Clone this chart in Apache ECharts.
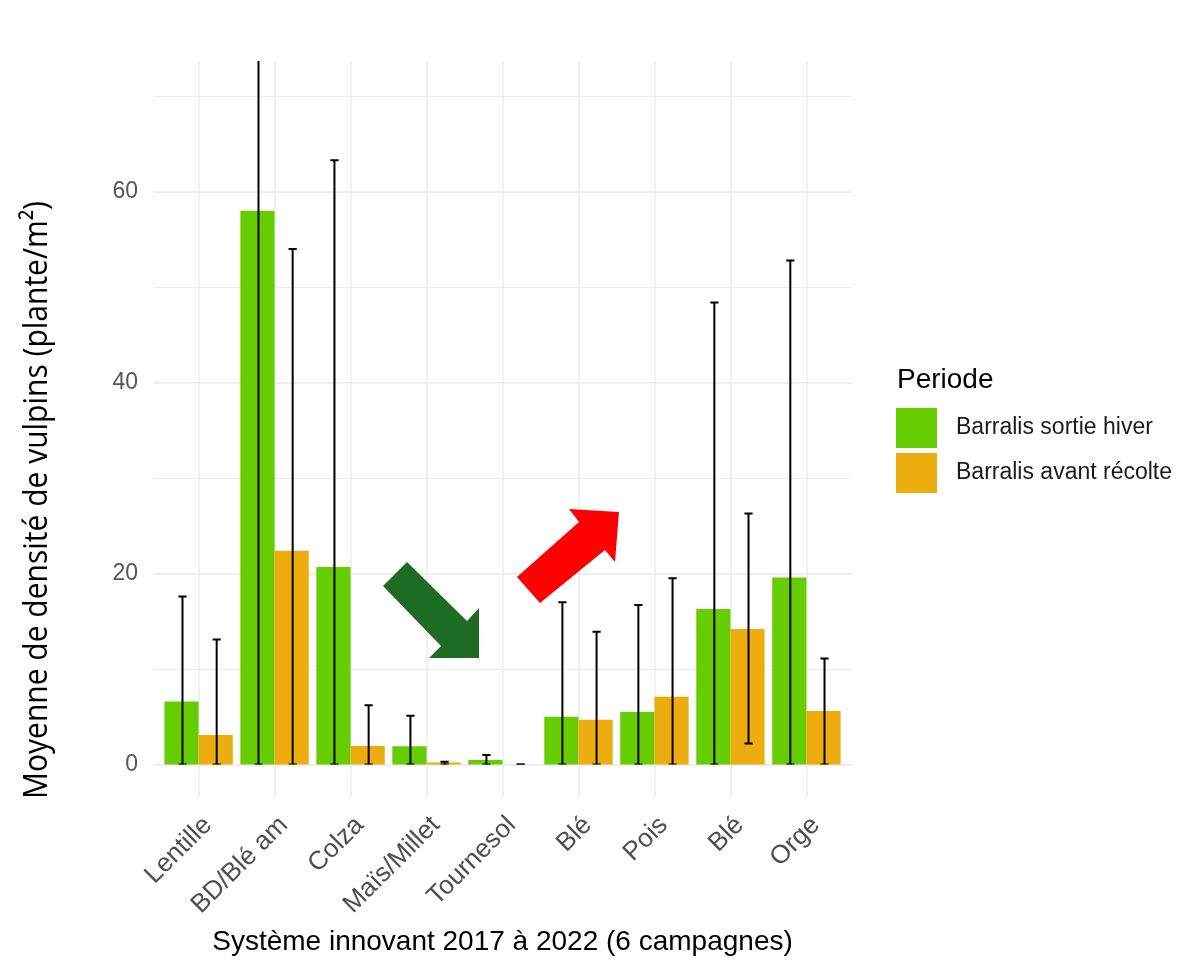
<!DOCTYPE html>
<html><head><meta charset="utf-8">
<script src="https://cdn.jsdelivr.net/npm/echarts@6/dist/echarts.min.js"></script>
<style>html,body{margin:0;padding:0;background:#fff}#c{width:1200px;height:969px}</style>
</head><body><div id="c"></div>
<script>
const categories = ['Lentille', 'BD/Blé am', 'Colza', 'Maïs/Millet', 'Tournesol', 'Blé', 'Pois', 'Blé', 'Orge'];
const seriesNames = ['Barralis sortie hiver', 'Barralis avant récolte'];
const hiver = [6.6, 58.0, 20.7, 1.9, 0.47, 5.0, 5.5, 16.3, 19.6];
const hiverErrLow = [0, 0, 0, 0, 0, 0, 0, 0, 0];
const hiverErrHigh = [17.6, 80, 63.3, 5.1, 1.0, 17.0, 16.7, 48.4, 52.8];
const recolte = [3.1, 22.4, 1.95, 0.2, 0, 4.7, 7.1, 14.2, 5.6];
const recolteErrLow = [0, 0, 0, 0, 0, 0, 0, 2.2, 0];
const recolteErrHigh = [13.1, 54.0, 6.2, 0.3, 0, 13.9, 19.5, 26.3, 11.1];
const yTicks = [0, 20, 40, 60];
const yMax = 73.7;

// fine positional axis: 5 slots per category, 3-slot padding at both ends (ggplot 0.6 expansion)
const STEP = 5, PAD = 3;
const nPos = PAD * 2 + STEP * (categories.length - 1) + 1;
const posOf = k => PAD + STEP * k;
const axisLabels = Array(nPos).fill('');
categories.forEach((c, k) => { axisLabels[posOf(k)] = c; });
function spread(vals) { const a = Array(nPos).fill(null); vals.forEach((v, k) => { a[posOf(k)] = v; }); return a; }
const errData = [];
categories.forEach((c, k) => {
  errData.push([posOf(k), hiverErrLow[k], hiverErrHigh[k], -1]);
  errData.push([posOf(k), recolteErrLow[k], recolteErrHigh[k], 1]);
});

const GREEN = '#66CD00', ORANGE = '#EEAD0E', GRID = '#EBEBEB';
const catSplit = { show: true, interval: (i) => (i - PAD) % STEP === 0 && i >= PAD, lineStyle: { color: GRID, width: 1.5 } };

function renderErr(params, api) {
  const i = api.value(0), lo = api.value(1), hi = api.value(2), side = api.value(3);
  const band = api.size([1, 0])[0];
  const x = api.coord([i, 0])[0] + side * 1.125 * band + 1;
  const yLo = api.coord([i, lo])[1], yHi = api.coord([i, hi])[1];
  const cw = 0.27 * band;
  const style = { stroke: '#000', lineWidth: 2 };
  return { type: 'group', children: [
    { type: 'line', shape: { x1: x, y1: yLo, x2: x, y2: yHi }, style },
    { type: 'line', shape: { x1: x - cw, y1: yHi, x2: x + cw, y2: yHi }, style },
    { type: 'line', shape: { x1: x - cw, y1: yLo, x2: x + cw, y2: yLo }, style }
  ] };
}

const chart = echarts.init(document.getElementById('c'), null, { renderer: 'canvas' });
chart.setOption({
  backgroundColor: '#fff',
  animation: false,
  grid: [
    { left: 153, right: 348, top: 61, bottom: 204.5 },
    { left: 153, right: 348, top: 764.5, bottom: 172 }
  ],
  xAxis: [
    { gridIndex: 0, type: 'category', boundaryGap: false, data: axisLabels,
      axisLine: { show: false }, axisTick: { show: false }, axisLabel: { show: false }, splitLine: catSplit },
    { gridIndex: 1, type: 'category', boundaryGap: false, data: axisLabels,
      axisLine: { show: false }, axisTick: { show: false }, splitLine: catSplit,
      axisLabel: { interval: 0, rotate: 45, align: 'right', verticalAlign: 'top', margin: 15,
        fontFamily: 'Liberation Sans', fontSize: 26, color: '#4D4D4D' },
      name: 'Système innovant 2017 à 2022 (6 campagnes)', nameLocation: 'middle', nameGap: 131,
      nameTextStyle: { fontFamily: 'Liberation Sans', fontSize: 28, color: '#000' } }
  ],
  yAxis: [
    { gridIndex: 0, type: 'value', min: 0, max: yMax, interval: 20,
      axisLine: { show: false }, axisTick: { show: false },
      axisLabel: { margin: 15, fontFamily: 'Liberation Sans', fontSize: 23, color: '#555',
        formatter: v => (yTicks.indexOf(v) >= 0 ? String(v) : '') },
      splitLine: { show: true, showMaxLine: false, lineStyle: { color: GRID, width: 1.5 } } },
    { gridIndex: 0, type: 'value', min: 0, max: yMax, interval: 10,
      axisLine: { show: false }, axisTick: { show: false }, axisLabel: { show: false },
      splitLine: { show: true, showMaxLine: false, lineStyle: { color: GRID, width: 1 } } },
    { gridIndex: 1, type: 'value', min: 0, max: 1, show: false }
  ],
  legend: {
    data: seriesNames, orient: 'vertical', left: 896, top: 408, padding: 0, icon: 'rect',
    itemWidth: 41, itemHeight: 40, itemGap: 5,
    textStyle: { fontFamily: 'Liberation Sans', fontSize: 23, color: '#1a1a1a', padding: [0, 0, 0, 14] }
  },
  series: [
    { name: seriesNames[0], type: 'bar', xAxisIndex: 0, yAxisIndex: 0, data: spread(hiver),
      barWidth: '225%', barGap: '0%', itemStyle: { color: GREEN } },
    { name: seriesNames[1], type: 'bar', xAxisIndex: 0, yAxisIndex: 0, data: spread(recolte),
      barWidth: '225%', barGap: '0%', itemStyle: { color: ORANGE } },
    { type: 'custom', xAxisIndex: 0, yAxisIndex: 0, clip: true, renderItem: renderErr,
      encode: { x: 0, y: [1, 2] }, data: errData, z: 5 }
  ],
  graphic: [
    { type: 'text', x: 38, y: 500, rotation: Math.PI / 2, scaleY: 1.1,
      style: { text: 'Moyenne de densité de vulpins (plante/m²)', font: '30px "Open Sans"', fill: '#000',
        align: 'center', verticalAlign: 'middle' } },
    { type: 'text', x: 897, y: 380,
      style: { text: 'Periode', font: '28px "Liberation Sans"', fill: '#000', align: 'left', verticalAlign: 'middle' } },
    { type: 'polygon', z: 10,
      shape: { points: [[383, 586], [407, 562], [467, 621], [479, 608], [479, 658], [429, 658], [441, 646]] },
      style: { fill: '#1E6B24' } },
    { type: 'polygon', z: 10,
      shape: { points: [[540, 603], [517, 577], [579, 522], [569, 509], [619, 512], [615, 562], [605, 550]] },
      style: { fill: '#FF0000' } }
  ]
});
</script></body></html>
